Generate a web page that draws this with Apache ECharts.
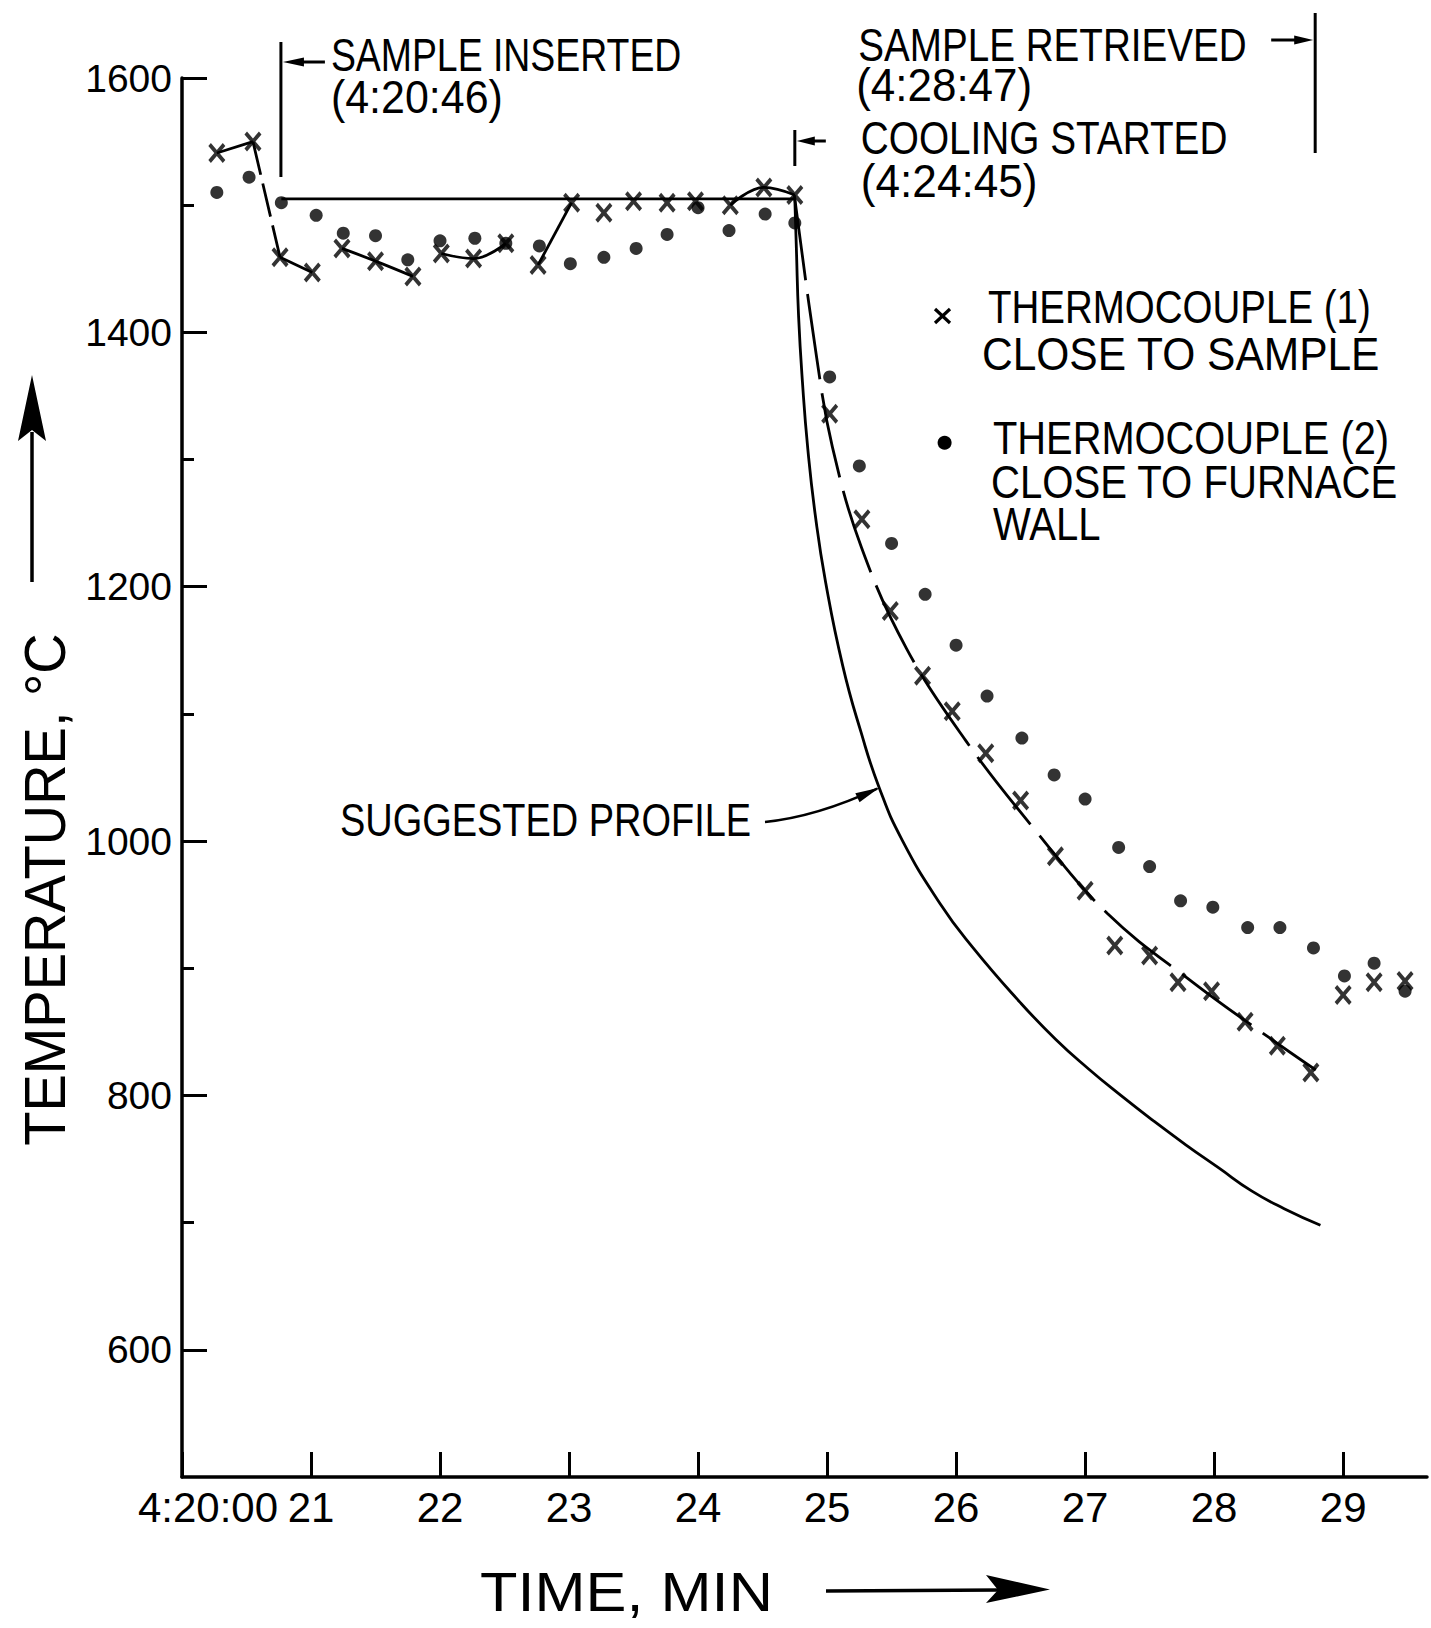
<!DOCTYPE html>
<html>
<head>
<meta charset="utf-8">
<script src="https://cdn.jsdelivr.net/npm/echarts@6/dist/echarts.min.js"></script>
<style>
html,body{margin:0;padding:0;background:#fff;}
#c{width:1431px;height:1628px;}
</style>
</head>
<body>
<div id="c"></div>
<script>
// ---------- data ----------
const xTickValues = [20, 21, 22, 23, 24, 25, 26, 27, 28, 29];
const xTickLabels = ['4:20:00', '21', '22', '23', '24', '25', '26', '27', '28', '29'];
const yTickValues = [600, 800, 1000, 1200, 1400, 1600];
const yTickLabels = ['600', '800', '1000', '1200', '1400', '1600'];
const yMinorTicks = [700, 900, 1100, 1300, 1500];

// thermocouple (1), close to sample  (time in minutes after 4:00, temperature in deg C)
const tc1Time = [20.27, 20.55, 20.76, 21.01, 21.24, 21.50, 21.79, 22.01, 22.26, 22.51, 22.76, 23.02, 23.27, 23.50, 23.76, 23.98, 24.25, 24.51, 24.75,
                 25.02, 25.27, 25.49, 25.74, 25.97, 26.23, 26.50, 26.77, 27.00, 27.23, 27.50, 27.72, 27.98, 28.24, 28.49, 28.75, 29.00, 29.24, 29.48];
const tc1Temp = [1541, 1550, 1459, 1447, 1466, 1456, 1444, 1462, 1458, 1470, 1453, 1502, 1494, 1503, 1502, 1503, 1500, 1514, 1508,
                 1336, 1253, 1181, 1130, 1102, 1069, 1032, 988, 961, 918, 910, 889, 882, 858, 839, 818, 879, 889, 890];

// hand-drawn (dashed) curve through thermocouple (1) during cooling
const tc1CurveTime = [24.746, 24.918, 25.041, 25.266, 25.618, 26.075, 26.61, 27.173, 27.848, 28.433, 28.788];
const tc1CurveTemp = [1508, 1381, 1310, 1231, 1151, 1079, 1009, 943, 888, 845, 820];

// thermocouple (2), close to furnace wall
const tc2Time = [20.27, 20.52, 20.77, 21.04, 21.25, 21.50, 21.75, 22.00, 22.27, 22.51, 22.77, 23.01, 23.27, 23.52, 23.76, 24.00, 24.24, 24.52, 24.75,
                 25.02, 25.25, 25.50, 25.76, 26.00, 26.24, 26.51, 26.76, 27.00, 27.26, 27.50, 27.74, 27.99, 28.26, 28.51, 28.77, 29.01, 29.24, 29.48];
const tc2Temp = [1510, 1522, 1502, 1492, 1478, 1476, 1457, 1472, 1474, 1470, 1468, 1454, 1459, 1466, 1477, 1498, 1480, 1493, 1486,
                 1365, 1295, 1234, 1194, 1154, 1114, 1081, 1052, 1033, 995, 980, 953, 948, 932, 932, 916, 894, 904, 882];

// suggested profile
const profileTime = [20.77, 24.75, 24.762, 24.779, 24.809, 24.851, 24.909, 24.988, 25.121, 25.262, 25.404, 25.581, 25.875, 26.124, 26.498, 26.773, 27.025, 27.277, 27.53, 27.783, 28.036, 28.29, 28.543, 28.824];
const profileTemp = [1505, 1505, 1466, 1413, 1361, 1308, 1256, 1204, 1138, 1086, 1042, 1001, 951, 917, 873, 844, 821, 800, 780, 761, 743, 725, 711, 698];
const profileArrowIndex = 10;

// index runs of thermocouple (1) joined by short hand-drawn strokes on the plateau
const tc1SolidRuns = [[0, 1], [2, 3], [4, 6], [7, 9], [10, 11], [16, 18]];
const tc1ShortDashRuns = [[1, 2]];

// events: sample inserted, cooling started, sample retrieved
const eventTime = [20 + 46 / 60, 24 + 45 / 60, 28 + 47 / 60];

// ---------- chart ----------
const FONT = '"Liberation Sans", Arial, Helvetica, sans-serif';
const BLACK = '#000';
const X_PATH = 'path://M0,3L3,0L10,7L17,0L20,3L13,10L20,17L17,20L10,13L3,20L0,17L7,10Z';

const pts = (ts, vs, a, b) => ts.slice(a, b + 1).map((t, i) => [t, vs[a + i]]);

const series = [];
series.push({ type: 'line', data: pts(profileTime, profileTemp, 0, 1), symbol: 'none', silent: true,
  lineStyle: { color: BLACK, width: 2.8 } });
series.push({ type: 'line', data: pts(profileTime, profileTemp, 1, profileTime.length - 1), smooth: 0.5, symbol: 'none', silent: true,
  lineStyle: { color: BLACK, width: 2.8 } });
tc1SolidRuns.forEach(r => series.push({ type: 'line', data: pts(tc1Time, tc1Temp, r[0], r[1]), smooth: 0.4, symbol: 'none', silent: true,
  lineStyle: { color: BLACK, width: 2.8 } }));
tc1ShortDashRuns.forEach(r => series.push({ type: 'line', data: pts(tc1Time, tc1Temp, r[0], r[1]), symbol: 'none', silent: true,
  lineStyle: { color: BLACK, width: 2.8, type: [34, 9] } }));
series.push({ type: 'line', data: pts(tc1CurveTime, tc1CurveTemp, 0, tc1CurveTime.length - 1), smooth: 0.4, symbol: 'none', silent: true,
  lineStyle: { color: BLACK, width: 2.8, type: [86, 14] } });
series.push({ type: 'scatter', name: 'THERMOCOUPLE (1)', data: tc1Time.map((t, i) => [t, tc1Temp[i]]),
  symbol: X_PATH, symbolSize: [17, 20], itemStyle: { color: BLACK }, z: 5, silent: true });
series.push({ type: 'scatter', name: 'THERMOCOUPLE (2)', data: tc2Time.map((t, i) => [t, tc2Temp[i]]),
  symbol: 'circle', symbolSize: 13, itemStyle: { color: BLACK }, z: 5, silent: true });

const chart = echarts.init(document.getElementById('c'), null, { renderer: 'svg', width: 1431, height: 1628 });

const option = {
  animation: false,
  backgroundColor: '#fff',
  textStyle: { fontFamily: FONT, color: BLACK },
  grid: { left: 182, top: 78, right: 4, bottom: 151, containLabel: false, outerBoundsMode: 'none' },
  xAxis: {
    type: 'value', min: 20, max: 29.65,
    axisLine: { show: true, onZero: false, lineStyle: { color: BLACK, width: 3.5 } },
    axisTick: { show: true, inside: true, length: 25, lineStyle: { color: BLACK, width: 3 }, customValues: xTickValues },
    axisLabel: {
      show: true, margin: 9, color: BLACK, fontSize: 42, fontFamily: FONT,
      customValues: xTickValues,
      formatter: function (v) {
        const i = xTickValues.indexOf(Math.round(v));
        if (i === 0) return '{first|' + xTickLabels[0] + '}';
        return i >= 0 ? xTickLabels[i] : '';
      },
      rich: { first: { padding: [0, 0, 0, 52], fontSize: 42, fontFamily: FONT, color: BLACK } }
    },
    splitLine: { show: false }
  },
  yAxis: [{
    type: 'value', min: 500, max: 1600, position: 'left',
    axisLine: { show: true, onZero: false, lineStyle: { color: BLACK, width: 3.5 } },
    axisTick: { show: true, inside: true, length: 25, lineStyle: { color: BLACK, width: 3 }, customValues: yTickValues },
    axisLabel: {
      show: true, margin: 10, color: BLACK, fontSize: 39, fontFamily: FONT,
      customValues: yTickValues,
      formatter: function (v) { const i = yTickValues.indexOf(Math.round(v)); return i >= 0 ? yTickLabels[i] : ''; }
    },
    splitLine: { show: false }
  }, {
    type: 'value', min: 500, max: 1600, position: 'left', offset: 0,
    axisLine: { show: false },
    axisTick: { show: true, inside: true, length: 12, lineStyle: { color: BLACK, width: 3 }, customValues: yMinorTicks },
    axisLabel: { show: false },
    splitLine: { show: false }
  }],
  series: series
};
chart.setOption(option);

// ---------- annotations ----------
const px = (t, v) => chart.convertToPixel({ xAxisIndex: 0, yAxisIndex: 0 }, [t, v]);
function txt(text, x, y, size, sx, align, rot) {
  return { type: 'text', x: x, y: y, scaleX: sx, rotation: rot || 0, silent: true, z: 10,
    style: { text: text, fill: BLACK, font: size + 'px ' + FONT, lineHeight: Math.round(size * 0.8),
      align: align || 'left', verticalAlign: 'middle' } };
}
function seg(x1, y1, x2, y2, w) {
  return { type: 'line', silent: true, z: 10, shape: { x1: x1, y1: y1, x2: x2, y2: y2 }, style: { stroke: BLACK, lineWidth: w || 3 } };
}
function poly(points) {
  return { type: 'polygon', silent: true, z: 10, shape: { points: points }, style: { fill: BLACK } };
}

const g = [];
// sample inserted
const mIns = px(eventTime[0], 1600)[0];
g.push(seg(mIns, 42, mIns, 177, 3));
g.push(seg(mIns + 18, 62, mIns + 44, 62, 3));
g.push(poly([[mIns + 2, 62], [mIns + 23, 57.5], [mIns + 23, 66.5]]));
g.push(txt('SAMPLE INSERTED', mIns + 50, 55, 46, 0.813));
g.push(txt('(4:20:46)', mIns + 50, 97, 46, 0.934));
// cooling started
const mCool = px(eventTime[1], 1600)[0];
g.push(seg(mCool, 130, mCool, 166, 3));
g.push(seg(mCool + 16, 141, mCool + 31, 141, 3));
g.push(poly([[mCool + 2, 141], [mCool + 20, 136.5], [mCool + 20, 145.5]]));
g.push(txt('COOLING STARTED', mCool + 66, 138, 46, 0.842));
g.push(txt('(4:24:45)', mCool + 66, 181, 46, 0.96));
// sample retrieved
const mRet = px(eventTime[2], 1600)[0];
g.push(seg(mRet, 13, mRet, 153, 3));
g.push(seg(mRet - 44, 40, mRet - 18, 40, 3));
g.push(poly([[mRet - 2, 40], [mRet - 21, 35.5], [mRet - 21, 44.5]]));
g.push(txt('SAMPLE RETRIEVED', mRet - 457, 45, 46, 0.84));
g.push(txt('(4:28:47)', mRet - 459, 85, 46, 0.956));

// legend
g.push(seg(935, 309, 950, 323, 3.2));
g.push(seg(950, 309, 935, 323, 3.2));
g.push(txt('THERMOCOUPLE (1)', 988, 307.5, 46, 0.837));
g.push(txt('CLOSE TO SAMPLE', 982, 354, 46, 0.924));
g.push({ type: 'circle', silent: true, z: 10, shape: { cx: 944.6, cy: 442.7, r: 7 }, style: { fill: BLACK } });
g.push(txt('THERMOCOUPLE (2)', 993, 438, 46, 0.866));
g.push(txt('CLOSE TO FURNACE', 991, 482, 46, 0.872));
g.push(txt('WALL', 993, 524, 46, 0.87));

// suggested profile label with arrow onto the curve
g.push(txt('SUGGESTED PROFILE', 340, 820.5, 46, 0.825));
const tip = px(profileTime[profileArrowIndex], profileTemp[profileArrowIndex]);
const st = [765, 822];
const cp = [st[0] + 0.45 * (tip[0] - st[0]), st[1] - 0.15 * (st[1] - tip[1])];
g.push({ type: 'bezierCurve', silent: true, z: 10, shape: { x1: st[0], y1: st[1], x2: tip[0] - 2, y2: tip[1] + 1, cpx1: cp[0], cpy1: cp[1] },
  style: { stroke: BLACK, lineWidth: 2.6, fill: 'none' } });
(function () {
  const dx = tip[0] - cp[0], dy = tip[1] - cp[1];
  const L = Math.sqrt(dx * dx + dy * dy), ux = dx / L, uy = dy / L;
  const bx = tip[0] - 24 * ux, by = tip[1] - 24 * uy;
  g.push(poly([[tip[0], tip[1]], [bx - 5 * uy, by + 5 * ux], [bx + 5 * uy, by - 5 * ux]]));
})();

// axis titles with arrows
g.push(txt('TEMPERATURE, \u00B0C', 45, 889.5, 58, 0.965, 'center', Math.PI / 2));
g.push(seg(32, 582, 32, 432, 3.5));
g.push(poly([[32, 375], [46, 441], [32, 430], [18, 441]]));
g.push(txt('TIME, MIN', 480, 1591, 56, 1.095));
g.push(seg(826, 1591, 1000, 1590, 3.5));
g.push(poly([[1050, 1589.5], [986, 1575], [998, 1590], [986, 1603]]));

chart.setOption({ graphic: { elements: g } });
</script>
</body>
</html>
